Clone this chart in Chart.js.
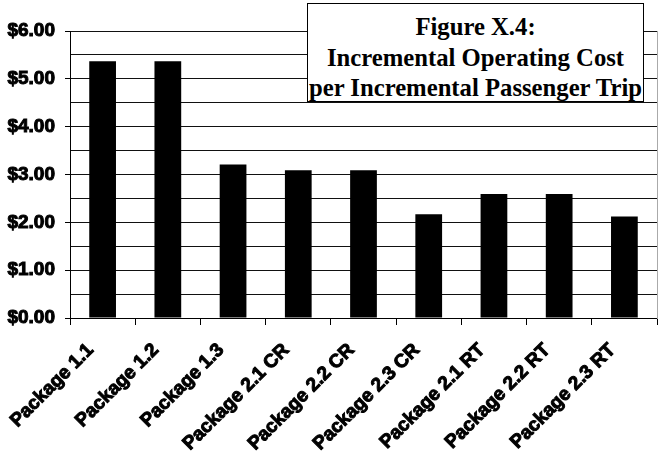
<!DOCTYPE html>
<html>
<head>
<meta charset="utf-8">
<script src="https://cdn.jsdelivr.net/npm/chart.js@4"></script>
<style>
  html, body { margin: 0; padding: 0; background: #fff; }
  #wrap { position: relative; width: 659px; height: 459px; }
  #caption {
    position: absolute; left: 307px; top: 3px; width: 337px; height: 99px;
    box-sizing: border-box; border: 1px solid #000; background: #fff;
    padding-top: 8px; text-align: center;
    font-family: "Liberation Serif", "Times New Roman", serif;
    font-weight: bold; font-size: 24.7px; line-height: 30.5px; color: #000;
    white-space: nowrap; overflow: visible;
  }
</style>
</head>
<body>
<div id="wrap">
  <canvas id="chart"></canvas>
  <div id="caption">Figure X.4:<br>Incremental Operating Cost<br>per Incremental Passenger Trip</div>
</div>
<script>
// Scenario names along the x-axis
const categories = [
  'Package 1.1', 'Package 1.2', 'Package 1.3',
  'Package 2.1 CR', 'Package 2.2 CR', 'Package 2.3 CR',
  'Package 2.1 RT', 'Package 2.2 RT', 'Package 2.3 RT'
];
// Incremental operating cost per incremental passenger trip, dollars
const costPerTrip = [5.37, 5.37, 3.21, 3.09, 3.09, 2.17, 2.59, 2.59, 2.12];
// Value axis range and grid spacing (labels only on whole dollars)
const yMin = 0;
const yMax = 6;
const gridStep = 0.5;

const isWhole = v => Math.abs(v - Math.round(v)) < 1e-9;

Chart.defaults.font.family = '"Liberation Sans", Arial, sans-serif';
Chart.defaults.font.weight = 'bold';
Chart.defaults.font.size = 19;
Chart.defaults.color = '#000';

new Chart(document.getElementById('chart'), {
  type: 'bar',
  data: {
    labels: categories,
    datasets: [{
      data: costPerTrip,
      backgroundColor: '#000',
      borderWidth: 0,
      categoryPercentage: 1,
      barPercentage: 0.41
    }]
  },
  options: {
    responsive: true,
    maintainAspectRatio: false,
    animation: false,
    layout: { padding: { top: 31, right: 2, bottom: 0, left: 0 } },
    plugins: { legend: { display: false }, tooltip: { enabled: false } },
    scales: {
      x: {
        grid: {
          offset: true,
          drawOnChartArea: false,
          drawTicks: true,
          tickLength: 7,
          color: '#000',
          lineWidth: 1
        },
        border: { display: true, color: '#000', width: 1 },
        ticks: {
          autoSkip: false,
          minRotation: 45,
          maxRotation: 45,
          padding: 14,
          labelOffset: -12,
          textStrokeColor: '#000',
          textStrokeWidth: 1,
          font: { size: 19, weight: 'bold' }
        },
        afterFit: s => { s.height = 141; }
      },
      y: {
        min: yMin,
        max: yMax,
        grid: {
          color: '#111',
          lineWidth: 1,
          drawTicks: true,
          tickLength: 5,
          tickColor: ctx => (ctx.tick && isWhole(ctx.tick.value)) ? '#000' : 'rgba(0,0,0,0)'
        },
        border: { display: true, color: '#000', width: 1 },
        ticks: {
          stepSize: gridStep,
          padding: 10,
          autoSkip: false,
          textStrokeColor: '#000',
          textStrokeWidth: 1,
          font: { size: 19, weight: 'bold' },
          callback: v => isWhole(v) ? '$' + Number(v).toFixed(2) : ''
        },
        afterFit: s => { s.width = 70; }
      },
      yRight: {
        position: 'right',
        min: yMin,
        max: yMax,
        grid: { drawOnChartArea: false, drawTicks: false },
        border: { display: true, color: '#aaa', width: 1 },
        ticks: { display: false }
      }
    }
  }
});
</script>
</body>
</html>
